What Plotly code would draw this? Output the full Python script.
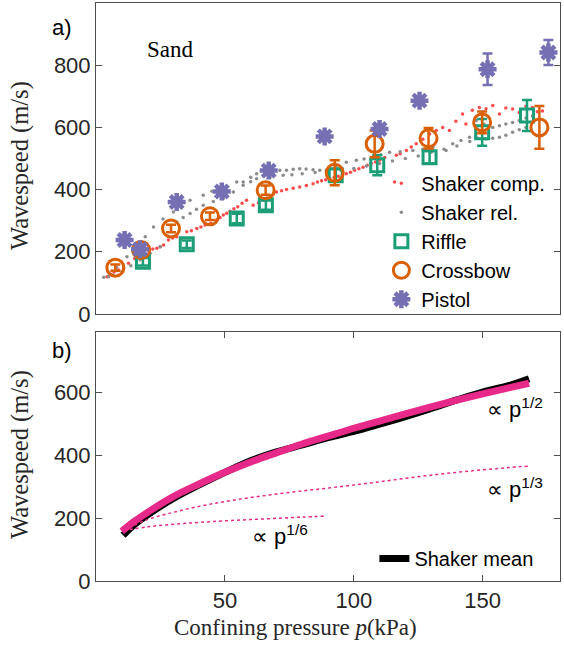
import plotly.graph_objects as go

# ---------------- data: panel a ----------------
riffle_p = [18.2, 35.2, 54.6, 65.9, 93.0, 109.1, 129.4, 149.8, 167.2]
riffle_v = [168, 224, 307, 350, 446, 478, 504, 584, 638]
riffle_err = [12, 12, 15, 15, 20, 32, 20, 43, 50]

crossbow_p = [7.5, 17.5, 29.1, 44.2, 65.8, 92.6, 108.1, 129.0, 149.8, 172.0]
crossbow_v = [149, 206, 275, 314, 398, 454, 547, 565, 616, 600]
crossbow_err = [10, 12, 12, 12, 15, 40, 43, 33, 35, 69]

pistol_p = [11.1, 17.1, 31.3, 48.8, 67.0, 88.7, 110.0, 125.5, 151.9, 175.5]
pistol_v = [238, 208, 360, 394, 461, 571, 595, 686, 787, 841]
pistol_err = [12, 10, 10, 10, 10, 10, 10, 10, 51, 40]

comp_p = [4.3, 5.6, 7.0, 8.8, 10.7, 12.6, 15.0, 16.5, 18.0, 20.4, 22.0, 23.6, 24.9, 26.2, 28.1,
          29.7, 31.3, 33.0, 35.2, 37.0, 39.1, 40.7, 42.3, 44.5, 46.8, 48.1, 49.4, 50.7, 52.0,
          53.5, 55.0, 56.7, 58.4, 61.0, 63.0, 64.9, 66.2, 67.5, 68.8, 70.0, 72.0, 73.9,
          76.5, 79.0, 81.6, 84.2, 85.9, 87.5, 89.1, 90.7, 92.4, 94.0, 95.6, 97.1, 98.7,
          100.3, 102.0, 103.6, 105.2, 106.8, 108.4, 110.0, 112.0, 115.8, 116.5,
          118.0, 120.4, 122.3, 124.2, 126.8, 129.4, 132.0, 134.5, 137.1, 139.6, 142.2, 143.5,
          146.0, 148.7, 151.3, 153.9, 156.5, 159.0, 161.6, 164.2, 166.8, 169.3, 171.2, 173.2]
comp_v = [120, 128, 135, 141, 147, 163, 178, 185, 192, 206, 209, 211, 216, 222, 238,
          244, 248, 243, 264, 268, 275, 280, 286, 292, 302, 310, 318, 324, 330,
          338, 345, 356, 366, 350, 358, 366, 373, 380, 386, 392, 396, 400,
          404, 408, 413, 419, 424, 428, 432, 435, 439, 443, 447, 451, 456,
          462, 467, 472, 478, 484, 489, 494, 503, 424, 510,
          515, 526, 537, 547, 562, 579, 590, 600, 590, 620, 643, 611,
          655, 664, 660, 670, 643, 662, 659, 648, 668, 664, 650, 653]

rel_p = [4.9, 8.0, 12.0, 15.5, 19.1, 22.3, 26.0, 30.0, 33.0, 36.5, 41.6, 45.0, 48.0, 50.7,
         54.6, 57.1, 60.0, 62.3, 66.0, 68.7, 71.3, 73.9, 76.5, 79.0, 81.5, 84.2, 86.8, 89.4,
         93.0, 97.1, 101.0, 104.0, 107.4, 110.5, 113.9, 118.0, 122.9, 126.8, 130.7, 135.8,
         138.4, 141.6, 144.9, 148.0, 151.3, 153.9, 156.5, 159.0, 161.6, 164.2, 166.8,
         3.0, 6.5, 10.1, 13.5, 17.1, 21.0, 24.9, 28.0, 31.3, 33.8, 36.5, 39.0, 41.6, 45.5,
         49.4, 53.3, 57.1, 60.0, 62.3, 67.5, 72.6, 76.0, 80.0, 85.0, 90.0, 95.0, 100.0,
         105.0, 110.0, 115.0, 120.0, 125.0, 130.0, 135.0, 140.0, 145.0, 147.5, 150.5,
         153.9, 156.5, 159.0, 161.6, 164.2, 166.8, 169.3]
rel_v = [120, 150, 184, 215, 248, 280, 305, 328, 348, 366, 382, 395, 405, 398,
         424, 424, 440, 451, 455, 451, 462, 462, 465, 467, 466, 464, 462, 462,
         475, 488, 494, 498, 504, 512, 520, 522, 526, 530, 536, 526,
         547, 558, 568, 565, 563, 565, 568, 575, 584, 592, 600,
         118, 125, 136, 155, 174, 195, 216, 250, 296, 310, 323, 337, 350, 362,
         371, 392, 414, 425, 435, 440, 446, 448, 451, 455, 458, 462, 468,
         476, 484, 492, 500, 508, 520, 530, 540, 555, 622, 610,
         600, 605, 611, 616, 622, 630, 637]

# ---------------- data: panel b ----------------
mean_p = [10.5, 15, 20, 30, 40, 50, 60, 70, 80, 90, 100, 110, 120, 130, 140, 150, 160, 168]
mean_v = [145, 180, 210, 262, 305, 345, 382, 410, 432, 455, 475, 498, 522, 548, 575, 600, 620, 642]

fit2_p = [10, 15, 20, 30, 40, 50, 60, 70, 80, 90, 100, 110, 120, 130, 140, 150, 160, 168]
fit2_v = [158, 190, 218, 268, 308, 345, 378, 407, 435, 460, 485, 508, 531, 553, 574, 594, 613, 628]

fit3_p = [10.7, 20, 30, 40, 50, 60, 70, 80, 90, 100, 110, 120, 130, 140, 150, 160, 168]
fit3_v = [160, 195, 218, 237, 252, 265, 276, 286, 295, 305, 315, 326, 336, 345, 353, 360, 365]

fit6_p = [10.7, 20, 30, 40, 50, 60, 70, 80, 88.7]
fit6_v = [160, 172, 180, 186, 191, 195, 199, 203, 206]

top_ticks = [0, 200, 400, 600, 800]
bot_ticks = [0, 200, 400, 600]
x_ticks = [50, 100, 150]

GREEN, ORANGE, PURPLE, PINK = "#1b9e77", "#d95f02", "#7570b3", "#e7298a"
SANS = "Liberation Sans, Arial, sans-serif"
SERIF = "Liberation Serif, Times New Roman, serif"
AX = "#4d4d4d"
TXT = "#262626"

fig = go.Figure()

fig.add_trace(go.Scatter(x=comp_p, y=comp_v, mode="markers", name="Shaker comp.",
                         marker=dict(color="#ff4d4d", size=3.5), xaxis="x", yaxis="y", legend="legend"))
fig.add_trace(go.Scatter(x=rel_p, y=rel_v, mode="markers", name="Shaker rel.",
                         marker=dict(color="#8c8c8c", size=3.5), xaxis="x", yaxis="y", legend="legend"))
fig.add_trace(go.Scatter(x=riffle_p, y=riffle_v, mode="markers", name="Riffle",
                         marker=dict(symbol="square-open", color=GREEN, size=13, line=dict(width=3)),
                         error_y=dict(type="data", array=riffle_err, color=GREEN, thickness=2.5, width=5),
                         xaxis="x", yaxis="y", legend="legend"))
fig.add_trace(go.Scatter(x=crossbow_p, y=crossbow_v, mode="markers", name="Crossbow",
                         marker=dict(symbol="circle-open", color=ORANGE, size=17, line=dict(width=3)),
                         error_y=dict(type="data", array=crossbow_err, color=ORANGE, thickness=2.5, width=5),
                         xaxis="x", yaxis="y", legend="legend"))
fig.add_trace(go.Scatter(x=pistol_p, y=pistol_v, mode="markers", name="Pistol",
                         marker=dict(symbol="asterisk-open", color=PURPLE, size=15, line=dict(width=4.5, color=PURPLE)),
                         error_y=dict(type="data", array=pistol_err, color=PURPLE, thickness=2.5, width=5),
                         xaxis="x", yaxis="y", legend="legend"))

fig.add_trace(go.Scatter(x=mean_p, y=mean_v, mode="lines", name="Shaker mean",
                         line=dict(color="black", width=7, shape="spline"),
                         xaxis="x2", yaxis="y2", legend="legend2"))
fig.add_trace(go.Scatter(x=fit2_p, y=fit2_v, mode="lines", showlegend=False,
                         line=dict(color=PINK, width=7, shape="spline"), xaxis="x2", yaxis="y2"))
fig.add_trace(go.Scatter(x=fit3_p, y=fit3_v, mode="lines", showlegend=False,
                         line=dict(color=PINK, width=1.5, dash="dot", shape="spline"), xaxis="x2", yaxis="y2"))
fig.add_trace(go.Scatter(x=fit6_p, y=fit6_v, mode="lines", showlegend=False,
                         line=dict(color=PINK, width=1.5, dash="dot", shape="spline"), xaxis="x2", yaxis="y2"))

axis_common = dict(showline=True, linecolor=AX, linewidth=1, mirror="ticks", showgrid=False,
                   zeroline=False, ticks="inside", ticklen=6, tickcolor=AX,
                   tickfont=dict(family=SANS, size=22, color=TXT))

fig.update_layout(
    width=564, height=654,
    margin=dict(l=96, r=4, t=3, b=73),
    paper_bgcolor="white", plot_bgcolor="white",
    xaxis=dict(domain=[0, 1], range=[0, 180], anchor="y", showline=True, linecolor=AX, mirror=True,
               showgrid=False, zeroline=False, showticklabels=False, ticks=""),
    yaxis=dict(domain=[0.462, 1], range=[0, 1000], anchor="x", tickvals=top_ticks, **axis_common),
    xaxis2=dict(domain=[0, 1], range=[0, 180], anchor="y2", tickvals=x_ticks, **axis_common),
    yaxis2=dict(domain=[0, 0.431], range=[0, 791], anchor="x2", tickvals=bot_ticks, **axis_common),
    legend=dict(x=0.615, y=0.722, xanchor="left", yanchor="top", bgcolor="rgba(0,0,0,0)",
                font=dict(family=SANS, size=20, color="black"), tracegroupgap=0),
    legend2=dict(x=0.6, y=0.005, xanchor="left", yanchor="bottom", bgcolor="rgba(255,255,255,0)",
                 font=dict(family=SANS, size=20, color="black")),
    showlegend=True,
)

ann = [
    dict(text="a)", x=62, y=28, font=dict(family=SANS, size=22, color="black")),
    dict(text="b)", x=62, y=350, font=dict(family=SANS, size=22, color="black")),
    dict(text="Sand", x=170, y=49, font=dict(family=SERIF, size=23, color="black")),
    dict(text="Wavespeed (m/s)", x=20, y=166, textangle=-90, font=dict(family=SERIF, size=24.5, color=TXT)),
    dict(text="Wavespeed (m/s)", x=20, y=455, textangle=-90, font=dict(family=SERIF, size=24.5, color=TXT)),
    dict(text="Confining pressure <i>p</i>(kPa)", x=295, y=627, font=dict(family=SERIF, size=23, color=TXT)),
    dict(text="∝ p<sup>1/2</sup>", x=515, y=408, font=dict(family=SANS, size=22, color="black")),
    dict(text="∝ p<sup>1/3</sup>", x=515, y=488, font=dict(family=SANS, size=22, color="black")),
    dict(text="∝ p<sup>1/6</sup>", x=280, y=535, font=dict(family=SANS, size=22, color="black")),
]
for a in ann:
    px, py = a.pop("x"), a.pop("y")
    fig.add_annotation(x=(px - 96) / 464, y=(581 - py) / 578, xref="paper", yref="paper",
                       showarrow=False, xanchor="center", yanchor="middle", **a)

fig.write_html("out.html")
